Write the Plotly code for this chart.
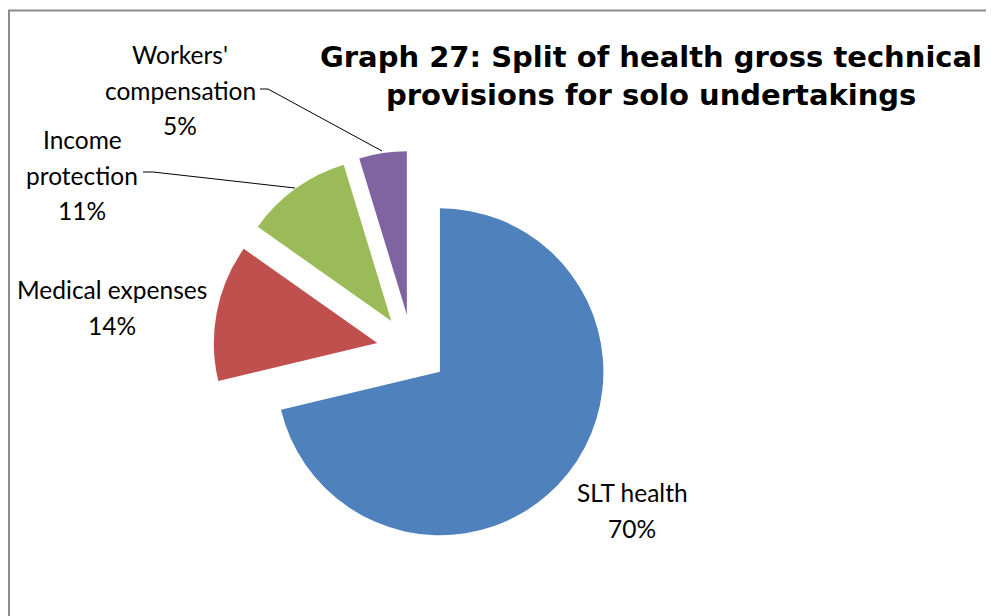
import plotly.graph_objects as go

# ---- data ----
labels = ["SLT health", "Medical expenses", "Income protection", "Workers' compensation"]
values = [71.2, 13.5, 10.5, 4.7]            # slice sizes as drawn
pct_text = ["70%", "14%", "11%", "5%"]      # percentage labels as printed
colors = ["#4F81BD", "#C0504D", "#9BBB59", "#8064A2"]
label_lines = [["SLT health"], ["Medical expenses"], ["Income", "protection"], ["Workers'", "compensation"]]
title_lines = ["Graph 27: Split of health gross technical", "provisions for solo undertakings"]

# page offset (body margin) and figure size
OX, OY = 8, 8
W, H = 986, 608


def px(x):
    return (x - OX) / W


def py(y):
    return 1 - (y - OY) / H


# pie geometry (window pixels)
cx, cy, half = 412.1, 349.8, 198.9

fig = go.Figure(go.Pie(
    labels=labels,
    values=values,
    sort=False,
    direction="clockwise",
    rotation=0,
    pull=[0.217] * len(values),
    marker=dict(colors=colors, line=dict(width=0)),
    textinfo="none",
    hoverinfo="label+percent",
    showlegend=False,
    domain=dict(x=[px(cx - half), px(cx + half)], y=[py(cy + half), py(cy - half)]),
))

annotations = []
label_pos = [(632, 492), (112, 289), (82, 139), (180, 54)]
spacing = 36
for lines, pct, (lx, ly) in zip(label_lines, pct_text, label_pos):
    for k, t in enumerate(lines + [pct]):
        annotations.append(dict(
            x=px(lx), y=py(ly + k * spacing), xref="paper", yref="paper",
            text=t, showarrow=False, xanchor="center", yanchor="middle",
            font=dict(family="Lato", size=24.5, color="#000000"),
        ))

for k, t in enumerate(title_lines):
    annotations.append(dict(
        x=px(651), y=py(57 + k * 38), xref="paper", yref="paper",
        text=f"<b>{t}</b>", showarrow=False, xanchor="center", yanchor="middle",
        font=dict(family="DejaVu Sans", size=29, color="#000000"),
    ))

shapes = []
# frame
shapes.append(dict(type="rect", xref="paper", yref="paper",
                   x0=px(9), y0=py(OY + H + 20), x1=px(OX + W + 20), y1=py(10.5),
                   line=dict(color="#8c8c8c", width=2), fillcolor="rgba(0,0,0,0)"))
# leader lines
leaders = [
    [(260, 89), (268, 89), (382, 151)],
    [(143, 172), (153, 172), (295, 188)],
]
for pts in leaders:
    path = "M " + " L ".join(f"{px(a)},{py(b)}" for a, b in pts)
    shapes.append(dict(type="path", xref="paper", yref="paper", path=path,
                       line=dict(color="#000000", width=1)))

fig.update_layout(
    width=W, height=H,
    margin=dict(l=0, r=0, t=0, b=0),
    paper_bgcolor="white", plot_bgcolor="white",
    annotations=annotations,
    shapes=shapes,
)

fig.write_html("out.html")
